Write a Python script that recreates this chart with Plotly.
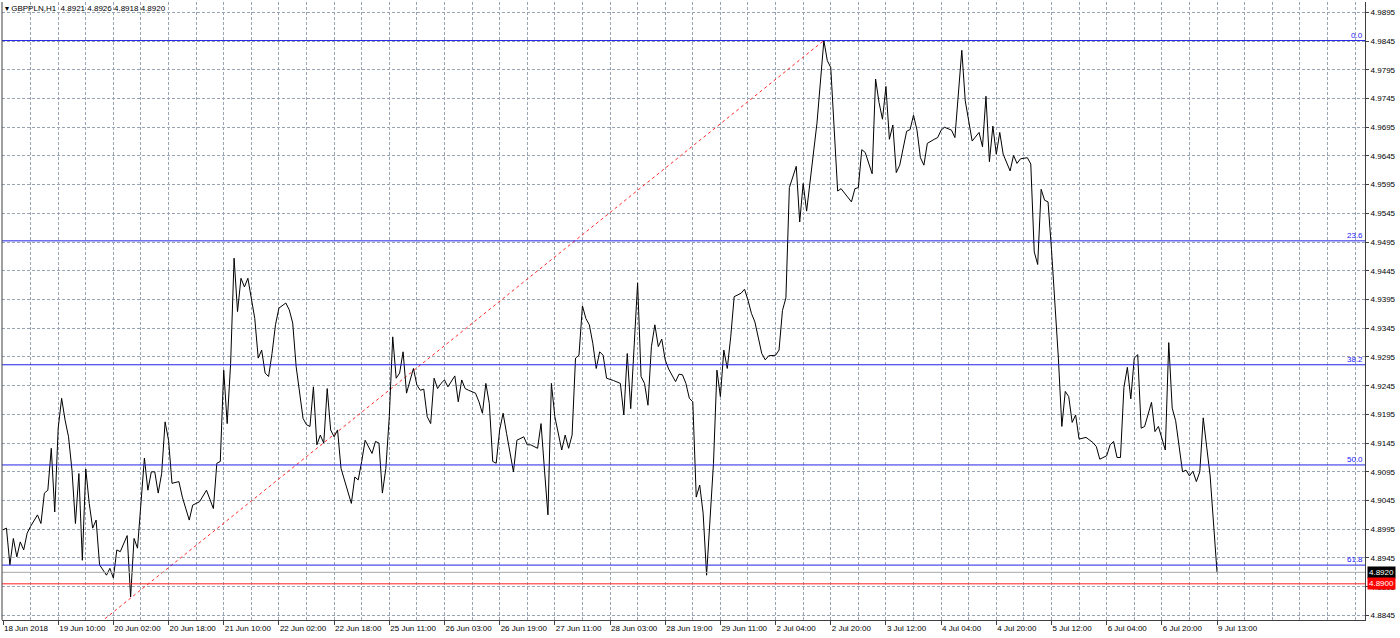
import plotly.graph_objects as go

# ---------------- data ----------------
symbol = "GBPPLN,H1"
ohlc_last = [4.8921, 4.8926, 4.8918, 4.8920]

# bar index (H1 bars, no weekend gaps) and close price of the visible vertices
bar_idx = [0, 1, 2, 3, 4, 5, 6, 7, 8, 10, 11, 12, 13, 14, 15, 16, 17, 18, 19, 20,
           21, 22, 23, 24, 25, 26, 27, 28, 30, 31, 32, 33, 34, 36, 37, 38, 39, 40, 41, 42,
           43, 44, 45, 46, 47, 48, 49, 51, 52, 54, 55, 57, 59, 61, 62, 63, 64, 65, 66, 67,
           68, 69, 70, 71, 72, 73, 74, 75, 76, 77, 78, 79, 80, 82, 83, 84, 85, 87, 88, 89,
           90, 91, 92, 93, 94, 95, 96, 97, 98, 100, 101, 102, 103, 104, 105, 107, 108, 109, 110, 111,
           112, 113, 114, 115, 116, 117, 118, 119, 120, 121, 122, 123, 124, 125, 126, 127, 128, 129, 131, 132,
           133, 134, 135, 137, 138, 139, 140, 141, 142, 143, 144, 145, 146, 148, 149, 150, 151, 152, 153, 155,
           156, 157, 158, 159, 160, 162, 163, 164, 165, 166, 167, 168, 169, 170, 171, 172, 173, 174, 175, 177,
           179, 180, 181, 182, 183, 184, 185, 186, 187, 188, 189, 190, 191, 192, 193, 195, 196, 197, 198, 199,
           200, 201, 202, 203, 204, 205, 206, 207, 208, 209, 210, 211, 212, 214, 215, 216, 217, 218, 219, 220,
           221, 222, 224, 225, 226, 227, 228, 230, 231, 232, 233, 234, 236, 238, 239, 240, 242, 243, 246, 247,
           248, 249, 250, 252, 253, 254, 255, 256, 257, 258, 259, 260, 261, 262, 263, 264, 265, 266, 267, 268,
           270, 271, 272, 273, 275, 276, 278, 279, 281, 282, 283, 284, 285, 286, 287, 288, 289, 290, 292, 293,
           294, 295, 297, 298, 299, 300, 301, 302, 303, 304, 306, 307, 308, 309, 310, 311, 312, 314, 316, 317,
           318, 320, 321, 322, 323, 324, 325, 326, 327, 328, 329, 330, 331, 333, 334, 335, 337, 338, 339, 340,
           342, 343, 344, 345, 346, 347, 348, 350, 352]

close_price = [4.8994, 4.8997, 4.8933, 4.8979, 4.8947, 4.8973, 4.8959, 4.8988, 4.9000, 4.9020,
               4.9005, 4.9058, 4.9063, 4.9136, 4.9025, 4.9171, 4.9223, 4.9185, 4.9156, 4.9098,
               4.9005, 4.9092, 4.8941, 4.9100, 4.9040, 4.8997, 4.9011, 4.8933, 4.8915, 4.8927,
               4.8910, 4.8959, 4.8956, 4.8984, 4.8877, 4.8979, 4.8962, 4.9037, 4.9119, 4.9063,
               4.9095, 4.9095, 4.9058, 4.9092, 4.9182, 4.9150, 4.9075, 4.9078, 4.9051, 4.9011,
               4.9037, 4.9043, 4.9063, 4.9031, 4.9110, 4.9113, 4.9272, 4.9179, 4.9284, 4.9467,
               4.9374, 4.9432, 4.9417, 4.9432, 4.9400, 4.9362, 4.9293, 4.9307, 4.9267, 4.9261,
               4.9301, 4.9351, 4.9380, 4.9389, 4.9377, 4.9354, 4.9278, 4.9188, 4.9177, 4.9174,
               4.9243, 4.9142, 4.9159, 4.9145, 4.9240, 4.9168, 4.9156, 4.9168, 4.9101, 4.9058,
               4.9040, 4.9086, 4.9081, 4.9113, 4.9150, 4.9127, 4.9148, 4.9145, 4.9058, 4.9101,
               4.9191, 4.9330, 4.9258, 4.9267, 4.9304, 4.9232, 4.9255, 4.9275, 4.9246, 4.9237,
               4.9239, 4.9191, 4.9179, 4.9258, 4.9240, 4.9249, 4.9255, 4.9243, 4.9262, 4.9217,
               4.9255, 4.9240, 4.9237, 4.9232, 4.9217, 4.9197, 4.9249, 4.9214, 4.9113, 4.9110,
               4.9168, 4.9197, 4.9162, 4.9095, 4.9150, 4.9153, 4.9156, 4.9142, 4.9142, 4.9136,
               4.9179, 4.9098, 4.9020, 4.9249, 4.9191, 4.9133, 4.9159, 4.9136, 4.9159, 4.9293,
               4.9298, 4.9384, 4.9362, 4.9351, 4.9319, 4.9275, 4.9304, 4.9298, 4.9258, 4.9254,
               4.9249, 4.9194, 4.9301, 4.9205, 4.9304, 4.9424, 4.9261, 4.9249, 4.9211, 4.9313,
               4.9351, 4.9313, 4.9326, 4.9290, 4.9274, 4.9252, 4.9265, 4.9264, 4.9249, 4.9223,
               4.9217, 4.9051, 4.9072, 4.9023, 4.8915, 4.9005, 4.9110, 4.9272, 4.9226, 4.9307,
               4.9275, 4.9330, 4.9400, 4.9406, 4.9413, 4.9394, 4.9371, 4.9356, 4.9327, 4.9301,
               4.9290, 4.9297, 4.9298, 4.9307, 4.9376, 4.9398, 4.9590, 4.9627, 4.9530, 4.9597,
               4.9549, 4.9600, 4.9702, 4.9846, 4.9811, 4.9799, 4.9584, 4.9588, 4.9565, 4.9588,
               4.9590, 4.9656, 4.9651, 4.9614, 4.9779, 4.9738, 4.9709, 4.9766, 4.9674, 4.9699,
               4.9616, 4.9629, 4.9658, 4.9688, 4.9691, 4.9716, 4.9690, 4.9642, 4.9629, 4.9667,
               4.9674, 4.9677, 4.9690, 4.9695, 4.9690, 4.9677, 4.9829, 4.9741, 4.9671, 4.9678,
               4.9686, 4.9661, 4.9749, 4.9635, 4.9697, 4.9648, 4.9686, 4.9648, 4.9619, 4.9646,
               4.9632, 4.9640, 4.9642, 4.9631, 4.9478, 4.9456, 4.9587, 4.9568, 4.9565, 4.9482,
               4.9293, 4.9174, 4.9235, 4.9226, 4.9181, 4.9194, 4.9152, 4.9155, 4.9146, 4.9139,
               4.9117, 4.9123, 4.9142, 4.9148, 4.9120, 4.9120, 4.9242, 4.9277, 4.9222, 4.9293,
               4.9299, 4.9171, 4.9174, 4.9216, 4.9165, 4.9174, 4.9133, 4.9320, 4.9206, 4.9184,
               4.9095, 4.9098, 4.9088, 4.9096, 4.9078, 4.9095, 4.9189, 4.9088, 4.8920]

# time-axis labels, one every 16 bars
x_labels = ["18 Jun 2018", "19 Jun 10:00", "20 Jun 02:00", "20 Jun 18:00", "21 Jun 10:00",
            "22 Jun 02:00", "22 Jun 18:00", "25 Jun 11:00", "26 Jun 03:00", "26 Jun 19:00",
            "27 Jun 11:00", "28 Jun 03:00", "28 Jun 19:00", "29 Jun 11:00", "2 Jul 04:00",
            "2 Jul 20:00", "3 Jul 12:00", "4 Jul 04:00", "4 Jul 20:00", "5 Jul 12:00",
            "6 Jul 04:00", "6 Jul 20:00", "9 Jul 13:00"]
bars_per_label = 16
bars_per_grid = 8

# price-axis ticks
y_ticks = [4.8845, 4.8895, 4.8945, 4.8995, 4.9045, 4.9095, 4.9145, 4.9195, 4.9245, 4.9295,
           4.9345, 4.9395, 4.9445, 4.9495, 4.9545, 4.9595, 4.9645, 4.9695, 4.9745, 4.9795,
           4.9845, 4.9895]

# Fibonacci retracement anchors
fib_high_bar, fib_high = 238, 4.9846
fib_low_bar, fib_low = -68, 4.8368
fib_levels = [0.0, 23.6, 38.2, 50.0, 61.8]

bid_price = 4.8920
red_level = 4.8900

# ---------------- figure ----------------
GRID = "#9aa5b3"
AXIS = "#404040"
FIB = "#2222e6"
FONT = "Liberation Sans, Arial, sans-serif"

fig = go.Figure()

# Fibonacci level lines
for lvl in fib_levels:
    p = fib_high - lvl / 100.0 * (fib_high - fib_low)
    fig.add_shape(type="line", xref="paper", yref="y", x0=0, x1=1, y0=p, y1=p,
                  line=dict(color=FIB, width=1), layer="above")
    fig.add_annotation(xref="paper", yref="y", x=1, y=p, xanchor="right", yanchor="bottom",
                       text=f"{lvl:.1f}", showarrow=False, xshift=-1, borderpad=0,
                       font=dict(family=FONT, size=8, color="#2020ff"))

# current price and red level lines
fig.add_shape(type="line", xref="paper", yref="y", x0=0, x1=1, y0=bid_price, y1=bid_price,
              line=dict(color="#a8a8a8", width=1), layer="above")
fig.add_shape(type="line", xref="paper", yref="y", x0=0, x1=1, y0=red_level, y1=red_level,
              line=dict(color="#ff2020", width=1), layer="above")

# Fibonacci trend line (dotted red)
fig.add_trace(go.Scatter(x=[fib_low_bar, fib_high_bar], y=[fib_low, fib_high], mode="lines",
                         line=dict(color="#ff2a2a", width=1, dash="3px,3px"),
                         hoverinfo="skip", showlegend=False))

# price line
fig.add_trace(go.Scatter(x=bar_idx, y=close_price, mode="lines",
                         line=dict(color="black", width=1),
                         hoverinfo="skip", showlegend=False))

# left border
fig.add_shape(type="line", xref="paper", yref="paper", x0=0, x1=0, y0=0, y1=1,
              line=dict(color=AXIS, width=1))

# price boxes on the axis
fig.add_annotation(xref="paper", yref="y", x=1, y=bid_price, xanchor="left", yanchor="middle",
                   text=f"{bid_price:.4f}", showarrow=False, xshift=2, bgcolor="black",
                   borderpad=1, font=dict(family=FONT, size=8, color="white"))
fig.add_annotation(xref="paper", yref="y", x=1, y=red_level, xanchor="left", yanchor="middle",
                   text=f"{red_level:.4f}", showarrow=False, xshift=2, bgcolor="#ff0000",
                   borderpad=1, font=dict(family=FONT, size=8, color="white"))

# chart header
header = symbol + "  " + " ".join(f"{v:.4f}" for v in ohlc_last)
fig.add_annotation(xref="paper", yref="paper", x=0, y=1, xanchor="left", yanchor="top",
                   text="▾ " + header, showarrow=False,
                   xshift=2, yshift=-1, borderpad=0,
                   font=dict(family=FONT, size=8, color="black"))

label_bars = [k * bars_per_label for k in range(len(x_labels))]

fig.update_layout(
    width=1400, height=638,
    margin=dict(l=2, r=35, t=2, b=18),
    plot_bgcolor="white", paper_bgcolor="white",
    showlegend=False,
    xaxis=dict(
        range=[-0.29, 394.9],
        tickmode="array", tickvals=label_bars, ticktext=x_labels,
        ticks="outside", ticklen=4, tickcolor=AXIS, tickwidth=1,
        ticklabelposition="outside right", tickangle=0, automargin=False,
        tickfont=dict(family=FONT, size=8, color="black"),
        showline=True, linecolor=AXIS, linewidth=1,
        showgrid=True, gridcolor=GRID, griddash="3px,2px", gridwidth=1,
        minor=dict(tickmode="linear", tick0=0, dtick=bars_per_grid, showgrid=True,
                   gridcolor=GRID, griddash="3px,2px", gridwidth=1, ticks=""),
        zeroline=False, fixedrange=True,
    ),
    yaxis=dict(
        side="right",
        range=[4.88370, 4.99131],
        tickmode="array", tickvals=y_ticks, ticktext=[f"{v:.4f}" for v in y_ticks],
        ticks="outside", ticklen=3, tickcolor=AXIS, tickwidth=1, automargin=False,
        tickfont=dict(family=FONT, size=8, color="black"),
        showline=True, linecolor=AXIS, linewidth=1,
        showgrid=True, gridcolor=GRID, griddash="3px,2px", gridwidth=1,
        zeroline=False, fixedrange=True,
    ),
)

fig.write_html("out.html", config={"displayModeBar": False},
               post_script="document.body.style.margin='0px';document.body.style.overflow='hidden';")
